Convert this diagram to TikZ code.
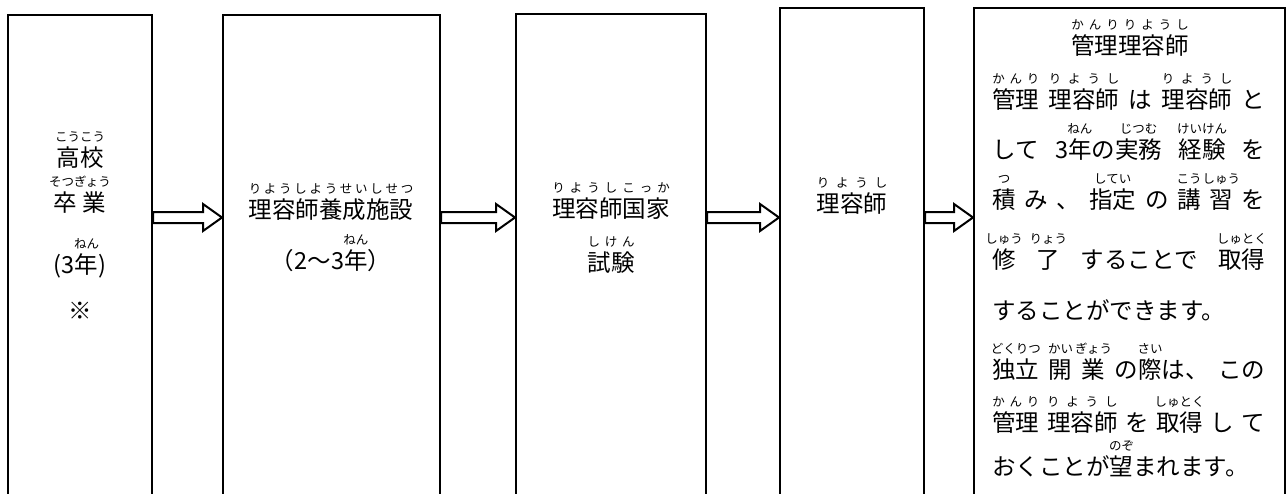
\documentclass[tikz,border=0pt]{standalone}
\usepackage{fontspec}
\setmainfont{Noto Sans CJK JP}
\usetikzlibrary{calc}
\usetikzlibrary{fit}

\newsavebox\rbbase
\newsavebox\rbtext
\newcommand\mainsize{\fontsize{11.75pt}{14pt}\selectfont}
\newcommand\rubyfont{\fontsize{6.25pt}{6.5pt}\selectfont\spaceskip=0pt plus 1fil\relax}
% ruby spread over the base (reading written with spaces)
\newcommand\rb[2]{\sbox\rbbase{#1}\sbox\rbtext{\rubyfont #2}%
  \ifdim\wd\rbtext<\wd\rbbase\sbox\rbtext{\rubyfont\makebox[\wd\rbbase][s]{#2}}\fi
  \rbput}
% ruby centred over the base
\newcommand\rbc[2]{\sbox\rbbase{#1}\sbox\rbtext{\rubyfont #2}\rbput}
\newcommand\rbput{\makebox[0pt][l]{\makebox[\wd\rbbase][c]{\raisebox{1.05em}[0pt][0pt]{\usebox\rbtext}}}\usebox\rbbase}
\newcommand\fillrow[1]{\hbox to 136.5pt{#1}}

\begin{document}
\begin{tikzpicture}[x=0.5pt,y=-0.5pt,
  stagebox/.style={draw,line width=1pt,inner sep=0pt},
  txt/.style={anchor=base,inner sep=0pt,font=\mainsize},
  rowtxt/.style={txt,anchor=base west},
  blockarrow/.style={draw,line width=1pt,fill=white,
    to path={let \p1=(\tikztostart), \p2=(\tikztotarget) in
      (\x1,\y1+2.75pt) -- (\x2-9.5pt,\y1+2.75pt) -- (\x2-9.5pt,\y1+6.75pt) -- (\x2,\y1)
      -- (\x2-9.5pt,\y1-6.75pt) -- (\x2-9.5pt,\y1-2.75pt) -- (\x1,\y1-2.75pt) -- cycle}}]
\useasboundingbox (0,0) rectangle (1288,493);
\clip (0,0) rectangle (1288,493);

% stages
\node[stagebox,fit={(8,15) (152,520)}] (school) {};
\node[stagebox,fit={(223,15) (440,520)}] (academy) {};
\node[stagebox,fit={(516,14) (706,520)}] (exam) {};
\node[stagebox,fit={(780,8) (924,520)}] (barber) {};
\node[stagebox,fit={(974,8) (1285,520)}] (manager) {};

% arrows
\coordinate (arrowrow) at (0,217.5);
\draw[blockarrow] (school.east |- arrowrow) to (academy.west |- arrowrow);
\draw[blockarrow] (academy.east |- arrowrow) to (exam.west |- arrowrow);
\draw[blockarrow] (exam.east |- arrowrow) to (barber.west |- arrowrow);
\draw[blockarrow] (barber.east |- arrowrow) to (manager.west |- arrowrow);

% texts
\node[txt] (school1) at (80,166) {\rb{高校}{こ う こ う}};
\node[txt] (school2) at (80,211) {\rbc{卒 業}{そつぎょう}};
\node[txt] (school3) at (80,273) {(3\rb{年}{ね ん})};
\node[txt] (school4) at (80,319) {※};

\node[txt] (academy1) at (331,218) {\rb{理容師養成施設}{り よ う し よ う せ い し せ つ}};
\node[txt] (academy2) at (331,269) {（2〜3\rb{年}{ね ん}）};

\node[txt] (exam1) at (611,217) {\rb{理容師国家}{り よ う し こ っ か}};
\node[txt] (exam2) at (611,271) {\rb{試験}{し け ん}};

\node[txt] (barber1) at (852,212) {\rb{理容師}{り よ う し}};

\node[txt] (manager0) at (1130,54) {\rb{管理理容師}{か ん り り よ う し}};
\node[rowtxt] (manager1) at (992,108) {\fillrow{\rb{管理}{か ん り}\hfill\rb{理容師}{り よ う し}\hfill は\hfill\rb{理容師}{り よ う し}\hfill と}};
\node[rowtxt] (manager2) at (992,158) {\fillrow{して\hfill 3\rb{年}{ね ん}の\rbc{実務}{じつむ}\hfill\rb{経験}{け い け ん}\hfill を}};
\node[rowtxt] (manager3) at (992,208) {\fillrow{\rbc{積}{つ}\hfill み\hfill 、\hfill\rbc{指定}{してい}\hfill の\hfill\rbc{講}{こう}\hfill\rbc{習}{しゅう}\hfill を}};
\node[rowtxt] (manager4) at (992,268) {\fillrow{\rbc{修}{しゅう}\hfill\rbc{了}{りょう}\hfill することで\hfill\rb{取得}{し ゅ と く}}};
\node[rowtxt] (manager5) at (992,319) {することができます。};
\node[rowtxt] (manager6) at (992,378) {\fillrow{\rb{独立}{ど く り つ}\hfill\rbc{開}{かい}\hfill\rbc{業}{ぎょう}\hfill の\rbc{際}{さい}は、\hfill この}};
\node[rowtxt] (manager7) at (992,431) {\fillrow{\rb{管理}{か ん り}\hfill\rb{理容師}{り よ う し}\hfill を\hfill\rb{取得}{し ゅ と く}\hfill し\hfill て}};
\node[rowtxt] (manager8) at (992,475) {おくことが\rbc{望}{のぞ}まれます。};
\end{tikzpicture}
\end{document}
